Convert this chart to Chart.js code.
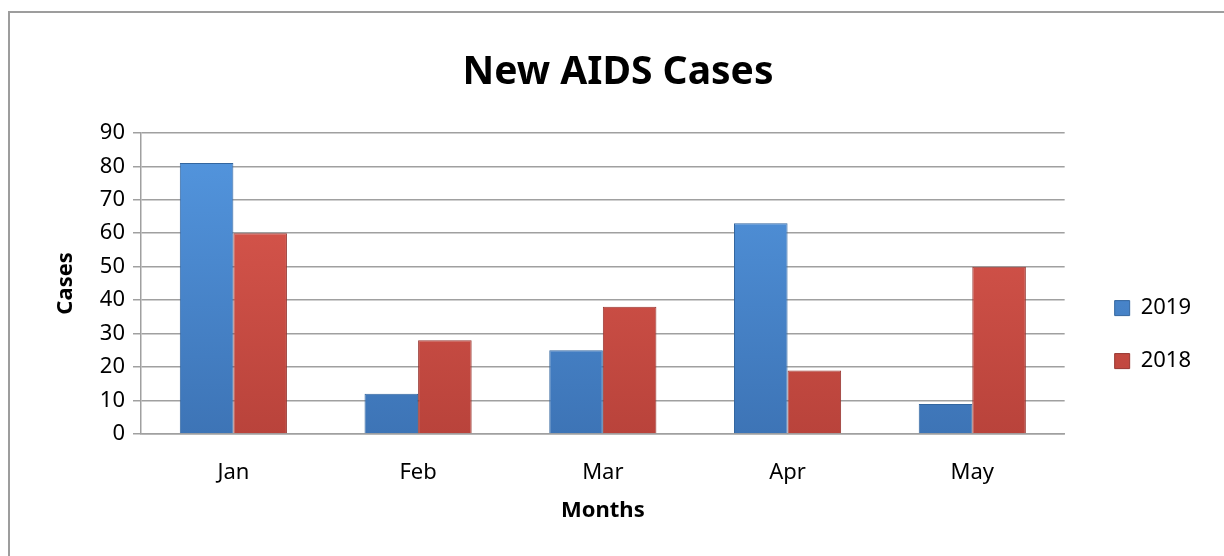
<!DOCTYPE html>
<html>
<head>
<meta charset="utf-8">
<script src="https://cdn.jsdelivr.net/npm/chart.js@4"></script>
<style>
  html, body { margin: 0; padding: 0; background: #fff; }
  #wrap { width: 1224px; height: 556px; }
</style>
</head>
<body>
<div id="wrap"><canvas id="chart" width="1224" height="556"></canvas></div>
<script>
const months = ["Jan", "Feb", "Mar", "Apr", "May"];
const cases2019 = [81, 12, 25, 63, 9];
const cases2018 = [60, 28, 38, 19, 50];
const yTicks = [0, 10, 20, 30, 40, 50, 60, 70, 80, 90];

const FONT = "'Noto Sans', 'DejaVu Sans', sans-serif";

// vertical shading for the bars, like the office bevel look
const shade = (top, bottom) => (context) => {
  const chart = context.chart;
  const area = chart.chartArea;
  if (!area) return top;
  const g = chart.ctx.createLinearGradient(0, area.top, 0, area.bottom);
  g.addColorStop(0, top);
  g.addColorStop(1, bottom);
  return g;
};

// grey frame (only top and left edge show inside the picture)
const frame = {
  id: "frame",
  beforeDraw(chart) {
    const c = chart.ctx;
    c.save();
    c.strokeStyle = "#9d9d9d";
    c.lineWidth = 2;
    c.strokeRect(9, 12, 1400, 700);
    c.restore();
  },
};

// excel puts title and legend a bit right of where chart.js would
const nudge = {
  id: "nudge",
  afterLayout(chart) {
    const t = chart.titleBlock;
    t.left += 27;
    t.right += 27;
    const l = chart.legend;
    l.left += 19;
    l.right += 19;
  },
};

const ctx = document.getElementById("chart").getContext("2d");
new Chart(ctx, {
  type: "bar",
  data: {
    labels: months,
    datasets: [
      {
        label: "2019",
        data: cases2019,
        backgroundColor: shade("#5497e0", "#3d74b6"),
        borderColor: "#33669f",
        borderWidth: 1,
        categoryPercentage: 0.58,
        barPercentage: 1,
      },
      {
        label: "2018",
        data: cases2018,
        backgroundColor: shade("#de5a50", "#b9433b"),
        borderColor: "#973630",
        borderWidth: 1,
        categoryPercentage: 0.58,
        barPercentage: 1,
      },
    ],
  },
  options: {
    responsive: false,
    animation: false,
    layout: { padding: { left: 0, right: 42, top: 0, bottom: 0 } },
    plugins: {
      title: {
        display: true,
        text: "New AIDS Cases",
        color: "#000",
        font: { family: FONT, size: 39, weight: "bold" },
        padding: { top: 49, bottom: 37 },
      },
      legend: {
        position: "right",
        title: {
          display: true,
          text: "",
          font: { size: 1 },
          padding: { top: 112, bottom: 0 },
        },
        labels: {
          color: "#000",
          font: { family: FONT, size: 22 },
          boxWidth: 15,
          boxHeight: 15,
          padding: 31,
        },
      },
      tooltip: { enabled: false },
    },
    scales: {
      x: {
        afterFit: (s) => { s.height = 122; },
        grid: { display: false },
        border: { display: true, color: "#a0a0a0", width: 1.5 },
        ticks: { color: "#000", font: { family: FONT, size: 22 }, padding: 18 },
        title: {
          display: true,
          text: "Months",
          color: "#000",
          font: { family: FONT, size: 22, weight: "bold" },
          padding: { top: 0, bottom: 32 },
        },
      },
      y: {
        min: 0,
        max: 90,
        afterFit: (s) => { s.width = 141; },
        afterBuildTicks: (s) => { s.ticks = yTicks.map((v) => ({ value: v })); },
        grid: { color: "#a0a0a0", lineWidth: 1.5, tickLength: 8 },
        border: { display: true, color: "#a0a0a0", width: 1.5 },
        ticks: { color: "#000", font: { family: FONT, size: 22 }, padding: 8 },
        title: {
          display: true,
          text: "Cases",
          color: "#000",
          font: { family: FONT, size: 22, weight: "bold" },
          padding: { top: 53, bottom: 0 },
        },
      },
    },
  },
  plugins: [frame, nudge],
});
</script>
</body>
</html>
